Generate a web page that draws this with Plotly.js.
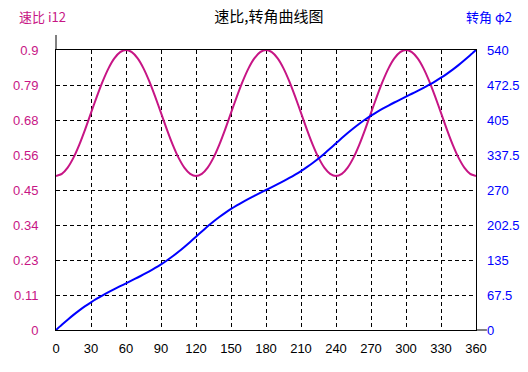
<!DOCTYPE html>
<html><head><meta charset="utf-8">
<script src="https://cdn.plot.ly/plotly-3.0.1.min.js"></script>
<style>html,body{margin:0;padding:0;background:#fff}</style>
</head><body><div id="chart" style="width:528px;height:372px"></div>
<script>
// ---- data ----
const phi1 = [0,5,10,15,20,25,30,35,40,45,50,55,60,65,70,75,80,85,90,95,100,105,110,115,120,
  125,130,135,140,145,150,155,160,165,170,175,180,185,190,195,200,205,210,215,220,225,230,235,240,
  245,250,255,260,265,270,275,280,285,290,295,300,305,310,315,320,325,330,335,340,345,350,355,360];
const speedRatio = [0.495,0.502,0.522,0.554,0.596,0.645,0.698,0.750,0.799,0.841,0.873,0.893,0.900,0.893,0.873,0.841,0.799,0.750,0.698,0.645,0.596,0.554,0.522,0.502,0.495,
  0.502,0.522,0.554,0.596,0.645,0.698,0.750,0.799,0.841,0.873,0.893,0.900,0.893,0.873,0.841,0.799,0.750,0.698,0.645,0.596,0.554,0.522,0.502,0.495,
  0.502,0.522,0.554,0.596,0.645,0.698,0.750,0.799,0.841,0.873,0.893,0.900,0.893,0.873,0.841,0.799,0.750,0.698,0.645,0.596,0.554,0.522,0.502,0.495];
const phi2 = [0,10.07,19.87,29.19,37.90,45.98,53.44,60.36,66.82,72.92,78.76,84.42,90,95.58,101.24,107.08,113.18,119.64,126.56,134.02,142.10,150.81,160.13,169.93,180,
  190.07,199.87,209.19,217.90,225.98,233.44,240.36,246.82,252.92,258.76,264.42,270,275.58,281.24,287.08,293.18,299.64,306.56,314.02,322.10,330.81,340.13,349.93,360,
  370.07,379.87,389.19,397.90,405.98,413.44,420.36,426.82,432.92,438.76,444.42,450,455.58,461.24,467.08,473.18,479.64,486.56,494.02,502.10,510.81,520.13,529.93,540];
const xTickVals = [0,30,60,90,120,150,180,210,240,270,300,330,360];
const xTickText = ['0','30','60','90','120','150','180','210','240','270','300','330','360'];
const leftTickVals = [0,0.1125,0.225,0.3375,0.45,0.5625,0.675,0.7875,0.9];
const leftTickText = ['0','0.11','0.23','0.34','0.45','0.56','0.68','0.79','0.9'];
const rightTickVals = [0,67.5,135,202.5,270,337.5,405,472.5,540];
const rightTickText = ['0','67.5','135','202.5','270','337.5','405','472.5','540'];
const titleText = '速比,转角曲线图';
const leftLabel = '速比 i12';
const rightLabel = '转角 φ2';
const midLineX = [180];

// ---- styles ----
const MAG = '#C71585', BLUE = '#0000FF';
const NUMFONT = 'Liberation Sans, Arial, sans-serif';
const CJK = 'Noto Sans CJK SC, sans-serif';

const traces = [
  {x: phi1, y: speedRatio, type: 'scatter', mode: 'lines', yaxis: 'y',
   line: {color: MAG, width: 2, shape: 'spline', smoothing: 0.6}, hoverinfo: 'skip'},
  {x: phi1, y: phi2, type: 'scatter', mode: 'lines', yaxis: 'y2',
   line: {color: BLUE, width: 2, shape: 'spline', smoothing: 0.6}, hoverinfo: 'skip'}
];

const grid = {showgrid: true, gridcolor: '#000', gridwidth: 1, griddash: '4px,3px'};

const layout = {
  width: 528, height: 372, autosize: false,
  margin: {l: 56, r: 52, t: 50, b: 42, pad: 0},
  paper_bgcolor: '#fff', plot_bgcolor: '#fff',
  showlegend: false,
  title: {text: titleText, font: {family: CJK, size: 15, color: '#000'},
          xref: 'paper', x: 0.507, xanchor: 'center', yref: 'container', y: 0.954, yanchor: 'middle'},
  xaxis: Object.assign({range: [0, 360], tickmode: 'array', tickvals: xTickVals, ticktext: xTickText,
    showline: true, linecolor: '#000', linewidth: 1, mirror: true, zeroline: false, ticks: '',
    ticklabelstandoff: 6, tickfont: {family: NUMFONT, size: 13, color: '#000'}, fixedrange: true}, grid),
  xaxis2: {range: [0, 360], overlaying: 'x', side: 'top', tickmode: 'array', tickvals: midLineX,
    showticklabels: false, ticks: '', showline: false, zeroline: false,
    showgrid: true, gridcolor: '#000', gridwidth: 1, griddash: 'solid', fixedrange: true},
  yaxis: Object.assign({range: [0, 0.9], tickmode: 'array', tickvals: leftTickVals, ticktext: leftTickText,
    showline: true, linecolor: '#000', linewidth: 1, mirror: true, zeroline: false, ticks: '',
    ticklabelstandoff: 14, tickfont: {family: NUMFONT, size: 13, color: MAG}, fixedrange: true}, grid),
  yaxis2: {range: [0, 540], overlaying: 'y', side: 'right', tickmode: 'array',
    tickvals: rightTickVals, ticktext: rightTickText, showgrid: false, zeroline: false, showline: false,
    ticks: '', ticklabelstandoff: 10, tickfont: {family: NUMFONT, size: 13, color: BLUE}, fixedrange: true},
  shapes: [
    {type: 'line', xref: 'paper', yref: 'paper', x0: 0, x1: 0, y0: 1, y1: 1.0536,
     line: {color: '#000', width: 1}},
    {type: 'line', xref: 'paper', yref: 'paper', x0: 1, x1: 1.026, y0: 0, y1: 0,
     line: {color: '#000', width: 1}}
  ],
  annotations: [
    {text: leftLabel, xref: 'paper', yref: 'paper', x: -0.0929, xanchor: 'left', y: 1.118, yanchor: 'middle',
     showarrow: false, font: {family: CJK, size: 13, color: MAG}},
    {text: rightLabel, xref: 'paper', yref: 'paper', x: 1.0905, xanchor: 'right', y: 1.118, yanchor: 'middle',
     showarrow: false, font: {family: CJK, size: 13, color: BLUE}}
  ]
};

Plotly.newPlot('chart', traces, layout, {displayModeBar: false, staticPlot: true});
</script></body></html>
